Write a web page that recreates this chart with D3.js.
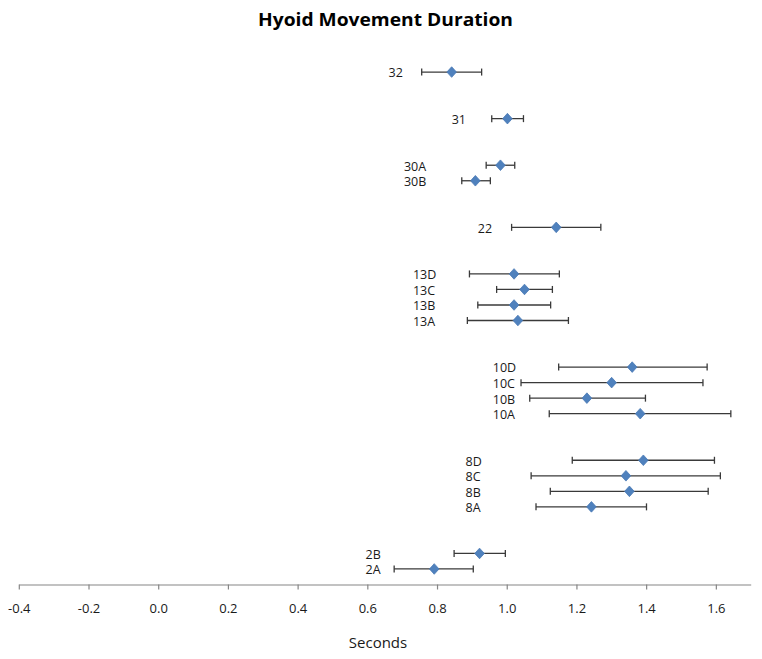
<!DOCTYPE html>
<html lang="en">
<head>
<meta charset="utf-8">
<title>Hyoid Movement Duration</title>
<script src="https://cdn.jsdelivr.net/npm/d3@7/dist/d3.min.js"></script>
<style>
  body { margin: 0; background: #fff; }
  svg { display: block; font-family: "Open Sans", sans-serif; }
</style>
</head>
<body>
<svg id="chart" width="762" height="659"></svg>
<script>
// one row per task, bottom of chart first
var labels     = ["2A", "2B", "8A", "8B", "8C", "8D", "10A", "10B", "10C", "10D",
                  "13A", "13B", "13C", "13D", "22", "30B", "30A", "31", "32"];
var means      = [0.792, 0.922, 1.243, 1.352, 1.342, 1.392, 1.383, 1.230, 1.301, 1.360,
                  1.032, 1.021, 1.051, 1.021, 1.142, 0.910, 0.982, 1.002, 0.842];
var lower      = [0.677, 0.849, 1.084, 1.125, 1.070, 1.188, 1.122, 1.066, 1.041, 1.149,
                  0.887, 0.917, 0.971, 0.893, 1.014, 0.871, 0.941, 0.957, 0.756];
var upper      = [0.904, 0.996, 1.401, 1.578, 1.613, 1.596, 1.643, 1.398, 1.563, 1.575,
                  1.177, 1.126, 1.131, 1.151, 1.270, 0.953, 1.023, 1.048, 0.928];
// y value of each row (rows are a scatter series)
var rowPos     = [1, 2, 5, 6, 7, 8, 11, 12, 13, 14, 17, 18, 19, 20, 23, 26, 27, 30, 33];
// where each text label starts, in seconds
var labelStart = [0.595, 0.595, 0.882, 0.882, 0.882, 0.882, 0.960, 0.960, 0.960, 0.960,
                  0.731, 0.731, 0.731, 0.731, 0.917, 0.705, 0.705, 0.842, 0.661];

var tickValues = [-0.4, -0.2, 0.0, 0.2, 0.4, 0.6, 0.8, 1.0, 1.2, 1.4, 1.6];
var tickLabels = ["-0.4", "-0.2", "0.0", "0.2", "0.4", "0.6", "0.8", "1.0", "1.2", "1.4", "1.6"];

var svg = d3.select("#chart");

var x = d3.scaleLinear().domain([-0.4, 1.7]).range([18.8, 750.7]);
var y = d3.scaleLinear().domain([0, 35]).range([584.5, 41]);

var rows = labels.map(function(name, i) {
    return { name: name, mean: means[i], lo: lower[i], hi: upper[i], pos: rowPos[i], lx: labelStart[i] };
});

// title
svg.append("text")
    .attr("x", 385.5)
    .attr("y", 25.7)
    .attr("text-anchor", "middle")
    .attr("font-size", 18)
    .attr("font-weight", "bold")
    .attr("fill", "#000")
    .attr("textLength", 255)
    .attr("lengthAdjust", "spacingAndGlyphs")
    .text("Hyoid Movement Duration");

// x axis
var axis = svg.append("g")
    .attr("transform", "translate(0," + y(0) + ")")
    .call(d3.axisBottom(x)
        .tickValues(tickValues)
        .tickFormat(function(d, i) { return tickLabels[i]; })
        .tickSizeInner(5)
        .tickSizeOuter(0)
        .tickPadding(14));
axis.select(".domain").attr("stroke", "#868686").attr("stroke-width", 1.2);
axis.selectAll(".tick line").attr("stroke", "#868686").attr("stroke-width", 1.2);
axis.selectAll(".tick text")
    .attr("font-size", 13)
    .attr("font-family", "Open Sans, sans-serif")
    .attr("fill", "#1a1a1a");

svg.append("text")
    .attr("x", 378)
    .attr("y", 648.3)
    .attr("text-anchor", "middle")
    .attr("font-size", 15)
    .attr("fill", "#1a1a1a")
    .text("Seconds");

// error bars
var g = svg.append("g");
var bars = g.selectAll(".err").data(rows).enter().append("g").attr("class", "err")
    .attr("stroke", "#3a3a3a").attr("stroke-width", 1.3);
bars.append("line")
    .attr("x1", function(d) { return x(d.lo); })
    .attr("x2", function(d) { return x(d.hi); })
    .attr("y1", function(d) { return y(d.pos); })
    .attr("y2", function(d) { return y(d.pos); });
bars.append("line")
    .attr("x1", function(d) { return x(d.lo); })
    .attr("x2", function(d) { return x(d.lo); })
    .attr("y1", function(d) { return y(d.pos) - 3.5; })
    .attr("y2", function(d) { return y(d.pos) + 3.5; });
bars.append("line")
    .attr("x1", function(d) { return x(d.hi); })
    .attr("x2", function(d) { return x(d.hi); })
    .attr("y1", function(d) { return y(d.pos) - 3.5; })
    .attr("y2", function(d) { return y(d.pos) + 3.5; });

// diamond markers
g.selectAll(".pt").data(rows).enter().append("path")
    .attr("class", "pt")
    .attr("d", "M0,-5.3L4.8,0L0,5.3L-4.8,0Z")
    .attr("transform", function(d) { return "translate(" + x(d.mean) + "," + y(d.pos) + ")"; })
    .attr("fill", "#4f81bd")
    .attr("stroke", "#4a7ab5")
    .attr("stroke-width", 0.8);

// row labels
g.selectAll(".lbl").data(rows).enter().append("text")
    .attr("class", "lbl")
    .attr("x", function(d) { return x(d.lx); })
    .attr("y", function(d) { return y(d.pos) + 1; })
    .attr("dy", "0.35em")
    .attr("font-size", 12.5)
    .attr("fill", "#1a1a1a")
    .text(function(d) { return d.name; });
</script>
</body>
</html>
